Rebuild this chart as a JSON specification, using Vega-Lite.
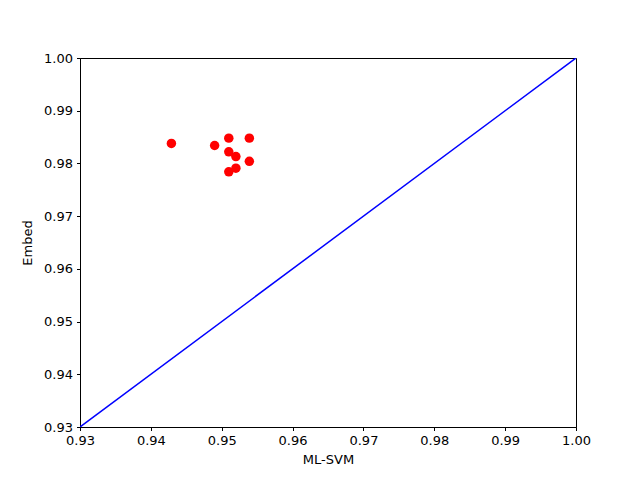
{
  "$schema": "https://vega.github.io/schema/vega-lite/v6.json",
  "width": 496,
  "height": 369,
  "autosize": {"type": "none"},
  "padding": {"left": 80, "top": 58, "right": 64, "bottom": 53},
  "background": "white",
  "config": {
    "view": {"stroke": "black", "strokeWidth": 1},
    "axis": {
      "grid": false,
      "domainColor": "black",
      "tickColor": "black",
      "tickSize": 3.5,
      "labelFont": "DejaVu Sans",
      "labelFontSize": 13,
      "labelColor": "black",
      "labelPadding": 4,
      "titleFont": "DejaVu Sans",
      "titleFontSize": 13,
      "titleFontWeight": "normal",
      "titleColor": "black",
      "labelFlush": false
    }
  },
  "layer": [
    {
      "data": {"values": [{"a": 0.93, "b": 0.93}, {"a": 1.0, "b": 1.0}]},
      "mark": {"type": "line", "color": "blue", "strokeWidth": 1.5, "clip": true},
      "encoding": {
        "x": {"field": "a", "type": "quantitative"},
        "y": {"field": "b", "type": "quantitative"}
      }
    },
    {
      "data": {"values": [
        {"mlsvm": 0.9429, "embed": 0.9838},
        {"mlsvm": 0.9490, "embed": 0.9834},
        {"mlsvm": 0.9510, "embed": 0.9848},
        {"mlsvm": 0.9539, "embed": 0.9848},
        {"mlsvm": 0.9510, "embed": 0.9822},
        {"mlsvm": 0.9520, "embed": 0.9813},
        {"mlsvm": 0.9539, "embed": 0.9804},
        {"mlsvm": 0.9520, "embed": 0.9791},
        {"mlsvm": 0.9510, "embed": 0.9784}
      ]},
      "mark": {"type": "circle", "color": "red", "opacity": 1, "size": 90},
      "encoding": {
        "x": {"field": "mlsvm", "type": "quantitative", "title": "ML-SVM",
              "scale": {"domain": [0.93, 1.0], "nice": false, "zero": false},
              "axis": {"values": [0.93, 0.94, 0.95, 0.96, 0.97, 0.98, 0.99, 1.0], "format": ".2f", "titlePadding": 6}},
        "y": {"field": "embed", "type": "quantitative", "title": "Embed",
              "scale": {"domain": [0.93, 1.0], "nice": false, "zero": false},
              "axis": {"values": [0.93, 0.94, 0.95, 0.96, 0.97, 0.98, 0.99, 1.0], "format": ".2f", "titlePadding": 9}}
      }
    }
  ]
}
